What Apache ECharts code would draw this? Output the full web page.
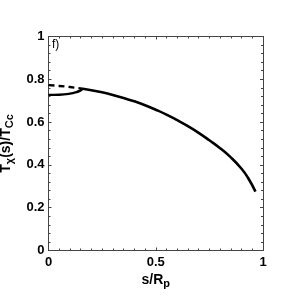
<!DOCTYPE html>
<html><head><meta charset="utf-8">
<script src="https://cdn.jsdelivr.net/npm/echarts@6/dist/echarts.min.js"></script>
<style>html,body{margin:0;padding:0;background:#fff}#c{width:291px;height:300px}</style>
</head><body><div id="c"></div>
<script>
// s/R_p values and T_chi(s)/T_Cc values
const mainS = [0.16, 0.2, 0.25, 0.3, 0.35, 0.4, 0.45, 0.5, 0.55, 0.6, 0.65, 0.7, 0.75, 0.8, 0.85, 0.9, 0.93, 0.965];
const mainT = [0.756, 0.749, 0.739, 0.727, 0.713, 0.697, 0.679, 0.658, 0.635, 0.609, 0.581, 0.550, 0.515, 0.478, 0.435, 0.382, 0.340, 0.275];
const dashS = [0, 0.05, 0.1, 0.16];
const dashT = [0.773, 0.769, 0.764, 0.756];
const lowS = [0, 0.05, 0.1, 0.13, 0.15, 0.16];
const lowT = [0.727, 0.728, 0.733, 0.740, 0.748, 0.756];
const xTicks = [0, 0.5, 1];
const yTicks = [0, 0.2, 0.4, 0.6, 0.8, 1];

const zip = (a, b) => a.map((v, i) => [v, b[i]]);
const font = '"Liberation Sans", Arial, sans-serif';
const axisCol = '#444';

const chart = echarts.init(document.getElementById('c'), null, {renderer: 'canvas'});
const common = {
  axisLine: {show: true, onZero: false, lineStyle: {color: axisCol, width: 1}},
  axisTick: {show: true, inside: true, length: 3, lineStyle: {color: axisCol}},
  splitLine: {show: false}
};
const xMinor = {minorTick: {show: true, splitNumber: 10, length: 2, lineStyle: {color: axisCol}}};
const yMinor = {minorTick: {show: true, splitNumber: 5, length: 2, lineStyle: {color: axisCol}}};
chart.setOption({
  animation: false,
  grid: {left: 48.5, right: 28, top: 36.5, bottom: 49.5, containLabel: false, outerBoundsMode: 'none'},
  xAxis: [
    Object.assign({
      type: 'value', min: 0, max: 1, interval: 0.5,
      axisLabel: {margin: 5, fontFamily: font, fontWeight: 'bold', fontSize: 13, color: '#000',
        formatter: v => { const t = xTicks.find(u => Math.abs(u - v) < 1e-9); return t === undefined ? '' : String(t); }},
      name: '{a|s/R}{b|p}', nameLocation: 'middle', nameGap: 16,
      nameTextStyle: {rich: {
        a: {fontFamily: font, fontWeight: 'bold', fontSize: 14, color: '#000'},
        b: {fontFamily: font, fontWeight: 'bold', fontSize: 11, color: '#000', padding: [8, 0, 0, 0]}
      }}
    }, common, xMinor),
    Object.assign({
      type: 'value', min: 0, max: 1, interval: 0.5, position: 'top',
      axisLabel: {show: false}
    }, common, xMinor)
  ],
  yAxis: [
    Object.assign({
      type: 'value', min: 0, max: 1, interval: 0.2,
      axisLabel: {margin: 4, fontFamily: font, fontWeight: 'bold', fontSize: 13, color: '#000',
        formatter: v => { const t = yTicks.find(u => Math.abs(u - v) < 1e-9); return t === undefined ? '' : String(t); }},
      name: '{a|T}{b|χ}{a|(s)/T}{b|Cc}', nameLocation: 'middle', nameGap: 29, nameRotate: 90,
      nameTextStyle: {rich: {
        a: {fontFamily: font, fontWeight: 'bold', fontSize: 14, color: '#000'},
        b: {fontFamily: font, fontWeight: 'bold', fontSize: 11, color: '#000', padding: [8, 0, 0, 0]}
      }}
    }, common, yMinor),
    Object.assign({
      type: 'value', min: 0, max: 1, interval: 0.2, position: 'right',
      axisLabel: {show: false}
    }, common, yMinor)
  ],
  graphic: [{type: 'text', left: 52, top: 39,
    style: {text: 'f)', font: '12px ' + font, fill: '#000'}}],
  series: [
    {type: 'line', data: zip(mainS, mainT), smooth: 0.5, showSymbol: false,
      lineStyle: {color: '#000', width: 2.6}},
    {type: 'line', data: zip(dashS, dashT), smooth: 0.3, showSymbol: false,
      lineStyle: {color: '#000', width: 2.4, type: [6, 4]}},
    {type: 'line', data: zip(lowS, lowT), smooth: 0.5, showSymbol: false,
      lineStyle: {color: '#000', width: 2.4}}
  ]
});
</script></body></html>
